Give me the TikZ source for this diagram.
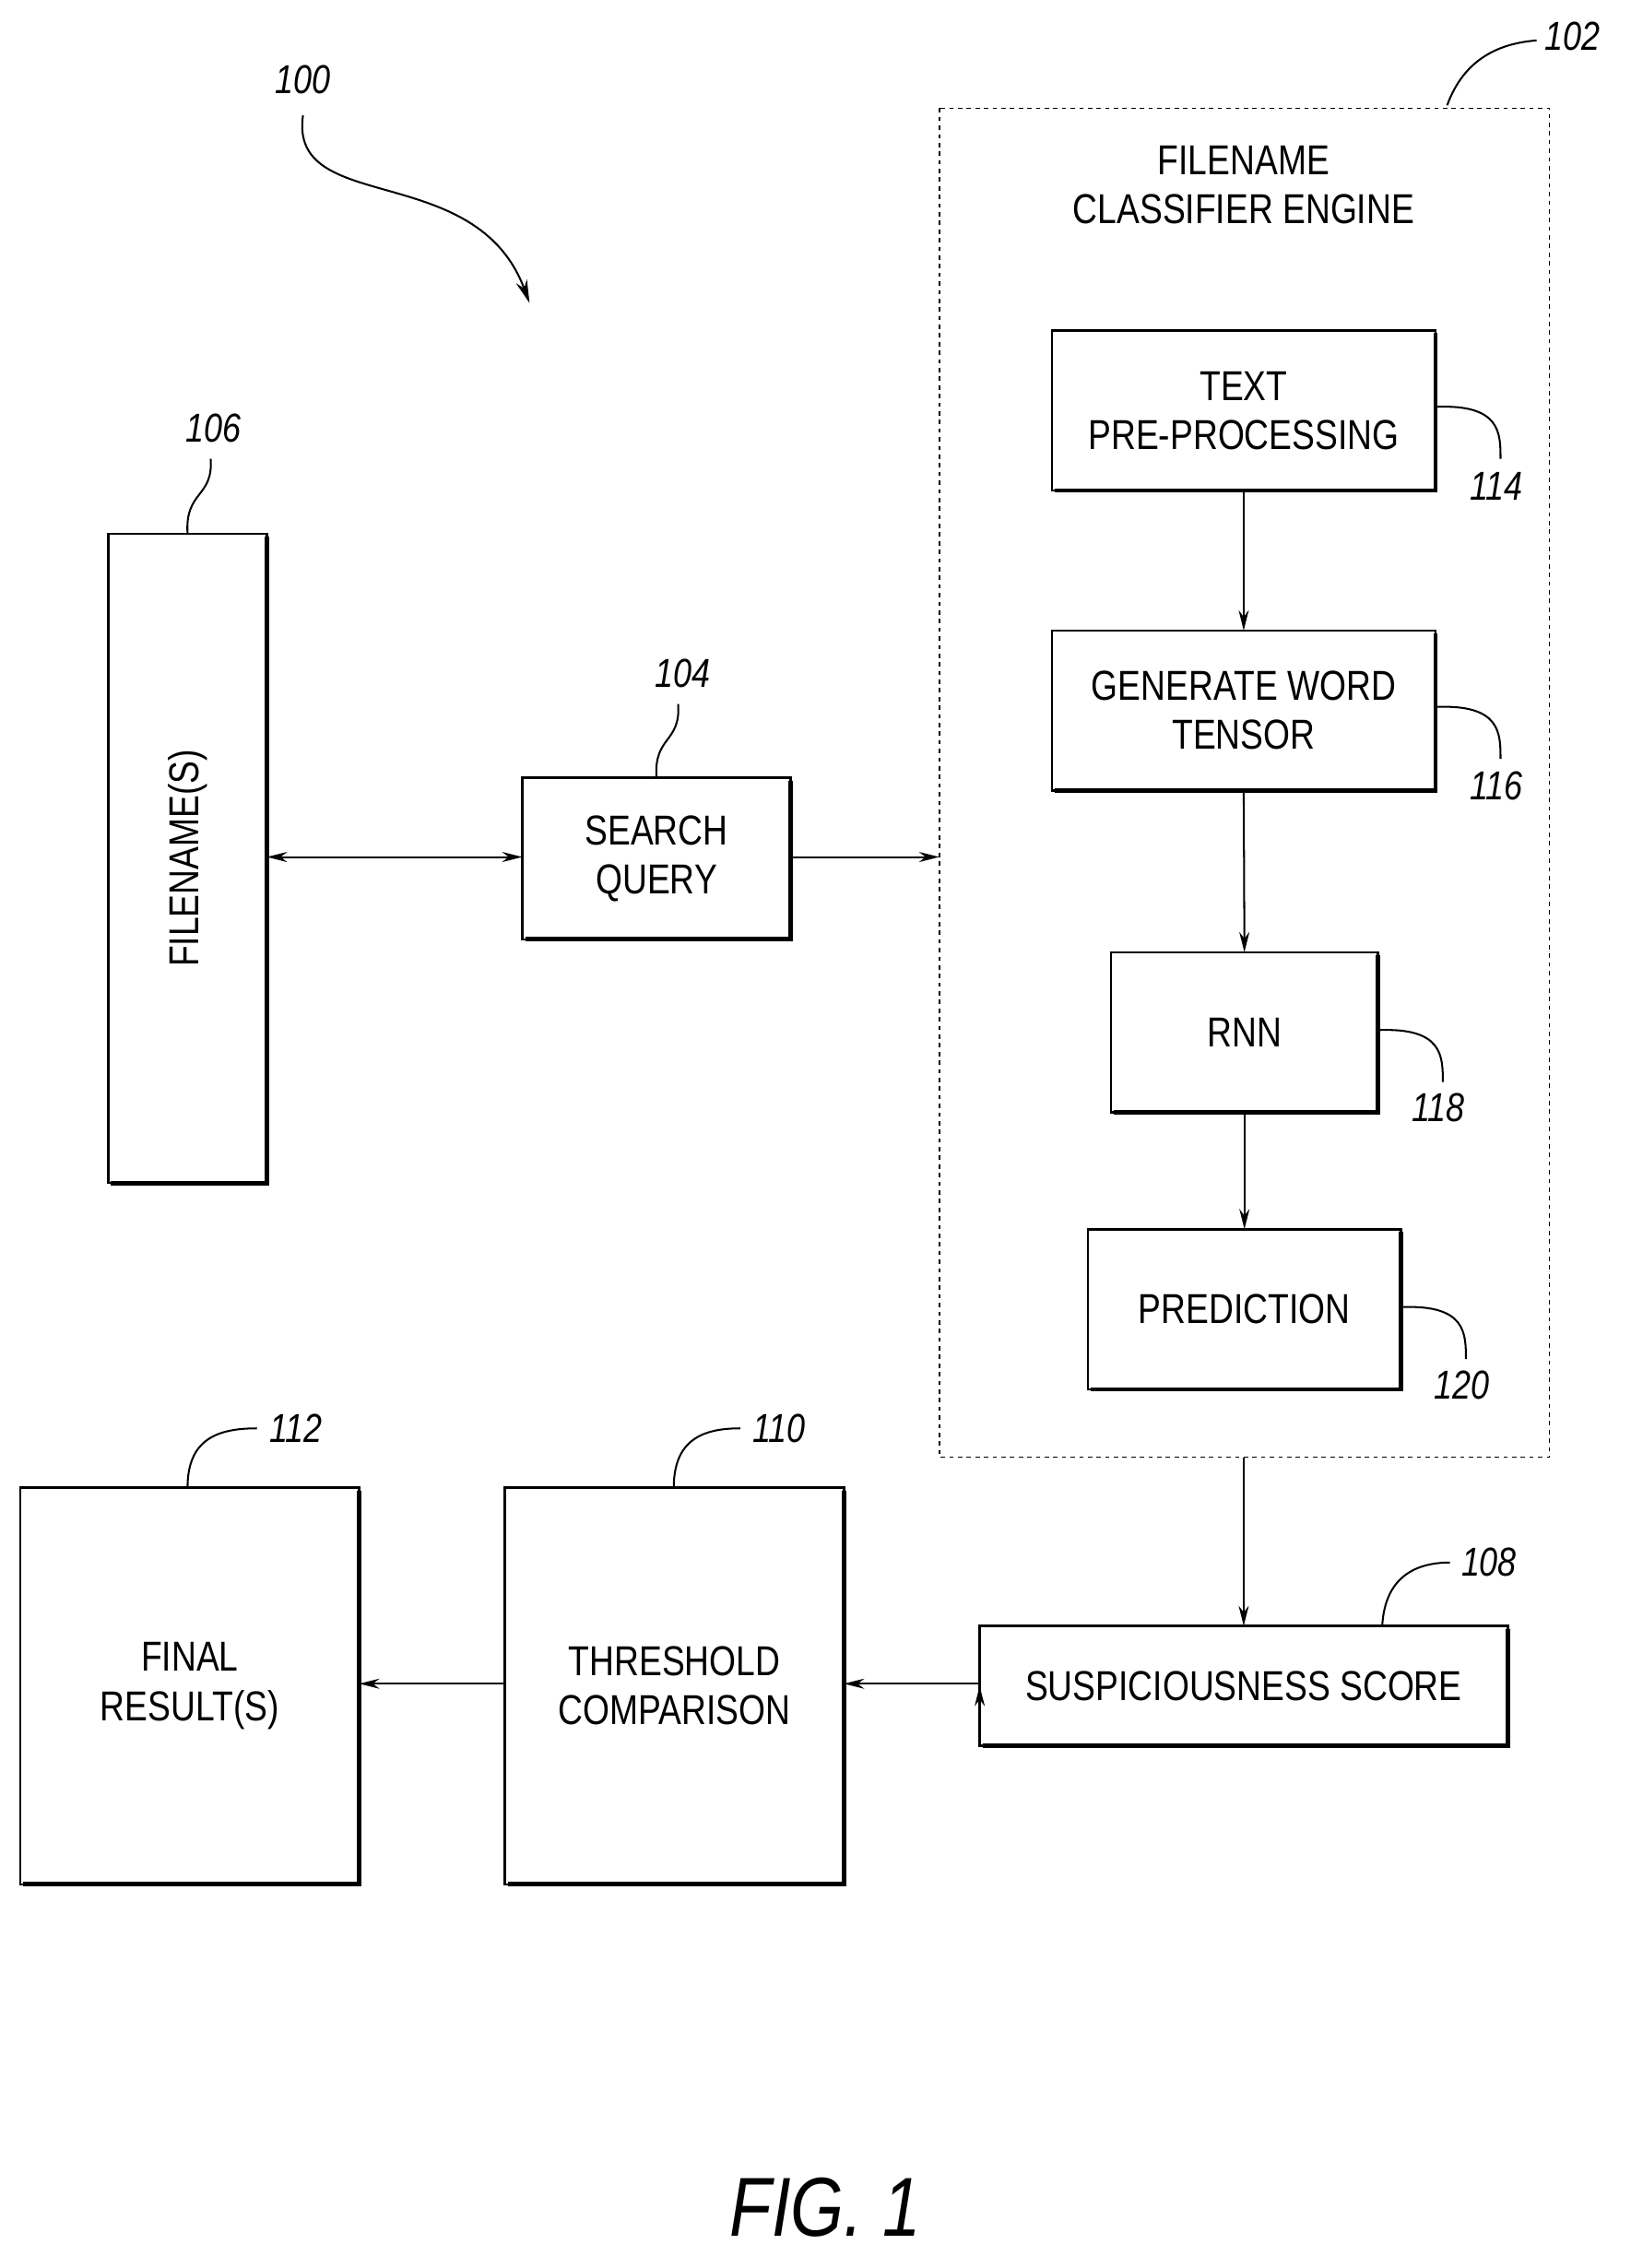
\documentclass[tikz,border=0pt]{standalone}
\usepackage{fontspec}
\setmainfont[FakeStretch=0.82]{Liberation Sans}
\usetikzlibrary{arrows.meta}
\begin{document}
\begin{tikzpicture}[x=1pt,y=-1pt,
 box/.style={draw,line width=1.6pt,inner sep=0pt},
 lbl/.style={font=\fontsize{29}{34}\selectfont,align=center},
 num/.style={font=\fontsize{28}{30}\selectfont\itshape},
 arr/.style={line width=1.3pt,-{Stealth[length=14pt,width=7pt]}},
 lead/.style={line width=1.3pt}]
\useasboundingbox (0,0) rectangle (1130,1572);
\draw[dashed,line width=1pt] (651,75) rectangle (1074,1010);
\node[lbl] (t102) at (862,128) {FILENAME\\CLASSIFIER ENGINE};
\newcommand{\bx}[5]{\draw[box] (#2,#3) rectangle (#4,#5); \draw[line width=3pt] (#4,#3+2) -- (#4,#5) -- (#2+2,#5);
 \coordinate (#1) at ({(#2+#4)/2},{(#3+#5)/2}); \coordinate (#1n) at ({(#2+#4)/2},#3); \coordinate (#1s) at ({(#2+#4)/2},#5);\coordinate (#1w) at (#2,{(#3+#5)/2});\coordinate (#1e) at (#4,{(#3+#5)/2});}
\bx{tp}{729}{229}{995}{340}
\bx{gw}{729}{437}{995}{548}
\bx{rn}{770}{660}{955}{771}
\bx{pr}{754}{852}{971}{963}
\bx{fn}{75}{370}{185}{820}
\bx{sq}{362}{539}{548}{651}
\bx{ss}{679}{1127}{1045}{1210}
\bx{th}{350}{1031}{585}{1306}
\bx{fr}{14}{1031}{249}{1306}
\node[lbl] (ntp) at (tp) {TEXT\\PRE-PROCESSING};
\node[lbl] (ngw) at (gw) {GENERATE WORD\\TENSOR};
\node[lbl] (nrn) at (rn) {RNN};
\node[lbl] (npr) at (pr) {PREDICTION};
\node[lbl,rotate=90] (nfn) at (fn) {FILENAME(S)};
\node[lbl] (nsq) at (sq) {SEARCH\\QUERY};
\node[lbl] (nss) at (ss) {SUSPICIOUSNESS SCORE};
\node[lbl] (nth) at (th) {THRESHOLD\\COMPARISON};
\node[lbl] (nfr) at (fr) {FINAL\\RESULT(S)};
\coordinate (dw) at (651,594); \coordinate (ds) at (862,1010);
\coordinate (fne) at (185,594); \coordinate (sqw2) at (362,594); \coordinate (sqe2) at (548,594);
\draw[arr,{Stealth[length=14pt,width=7pt]}-{Stealth[length=14pt,width=7pt]}] (fne) -- (sqw2);
\draw[arr] (sqe2) -- (dw);
\draw[arr] (tps) -- (gwn);
\draw[arr] (gws) -- (rnn);
\draw[arr] (rns) -- (prn);
\draw[arr] (ds) -- (ssn);
\draw[arr] (ssw) -- (th-|ssw) ++(0,0); 
\coordinate (thE) at (585,1167); \coordinate (ssW) at (679,1167);
\coordinate (frE) at (249,1167); \coordinate (thW) at (350,1167);
\draw[arr] (ssW) -- (thE);
\draw[arr] (thW) -- (frE);
% numbers
\node[num] (n100) at (210,55) {100};
\coordinate (a100) at (210,80); \coordinate (b100) at (367,210);
\draw[lead,-{Stealth[length=16pt,width=8pt]}] (a100) .. controls (200,150) and (330,110) .. (b100);
\node[num] (n102) at (1090,25) {102};
\draw[lead] (1003,73) .. controls (1015,40) and (1040,30) .. (1065,28);
\node[num] (n106) at (148,297) {106};
\draw[lead] (130,370) .. controls (128,340) and (148,345) .. (146,318);
\node[num] (n104) at (473,467) {104};
\draw[lead] (455,539) .. controls (453,510) and (472,515) .. (470,488);
\node[num] (n114) at (1037,337) {114};
\draw[lead] (995,282) .. controls (1040,280) and (1040,300) .. (1040,318);
\node[num] (n116) at (1037,545) {116};
\draw[lead] (995,490) .. controls (1040,488) and (1040,508) .. (1040,526);
\node[num] (n118) at (997,768) {118};
\draw[lead] (955,714) .. controls (1000,712) and (1000,732) .. (1000,750);
\node[num] (n120) at (1013,960) {120};
\draw[lead] (971,906) .. controls (1016,904) and (1016,924) .. (1016,942);
\node[num] (n108) at (1032,1083) {108};
\draw[lead] (958,1127) .. controls (960,1090) and (985,1083) .. (1005,1083);
\node[num] (n112) at (205,990) {112};
\draw[lead] (130,1031) .. controls (130,998) and (150,990) .. (178,990);
\node[num] (n110) at (540,990) {110};
\draw[lead] (467,1031) .. controls (467,998) and (487,990) .. (513,990);
\node[font=\fontsize{58}{60}\selectfont\itshape] (fig) at (572,1530) {FIG. 1};
\end{tikzpicture}
\end{document}
